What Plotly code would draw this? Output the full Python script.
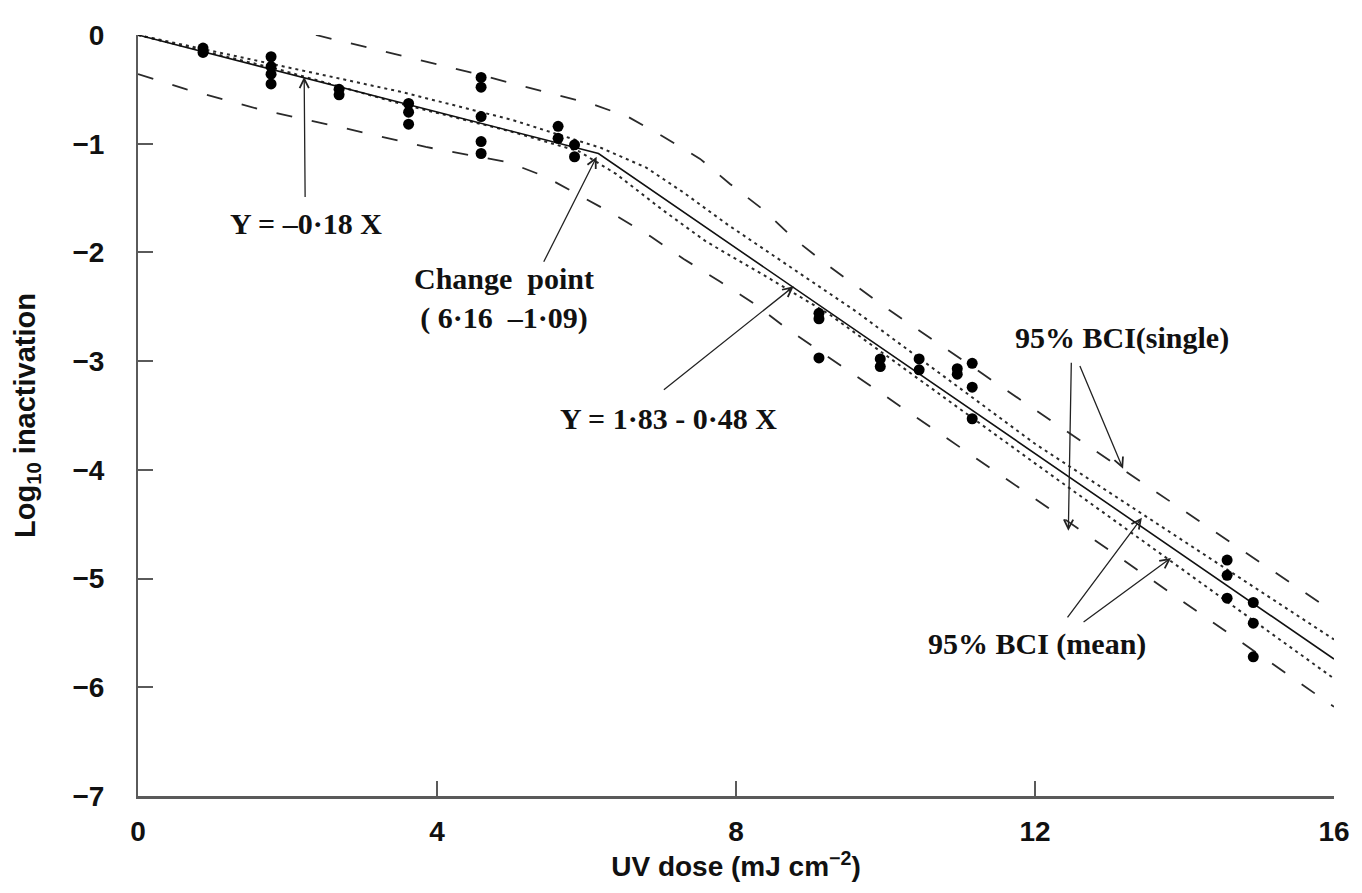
import plotly.graph_objects as go

# ---- data ----
dose_pts = [0.87, 0.87, 1.78, 1.78, 1.78, 1.78, 2.69, 2.69, 3.62, 3.62, 3.62,
            4.59, 4.59, 4.59, 4.59, 4.59, 5.62, 5.62, 5.84, 5.84,
            9.11, 9.11, 9.11, 9.93, 9.93, 10.45, 10.45, 10.96, 10.96,
            11.16, 11.16, 11.16, 14.57, 14.57, 14.57, 14.92, 14.92, 14.92]
log_pts = [-0.12, -0.16, -0.20, -0.29, -0.36, -0.45, -0.50, -0.55, -0.63, -0.71, -0.82,
           -0.39, -0.48, -0.75, -0.98, -1.09, -0.84, -0.95, -1.01, -1.12,
           -2.56, -2.61, -2.97, -2.98, -3.05, -2.98, -3.08, -3.07, -3.12,
           -3.02, -3.24, -3.53, -4.83, -4.97, -5.18, -5.22, -5.41, -5.72]

fit_x = [0, 6.16, 16]
fit_y = [0, -1.09, -5.74]

mean_up_x = [0, 1.9, 3.5, 5.0, 6.2, 6.8, 7.3, 7.9, 8.5, 9.6, 12.0, 16.0]
mean_up_y = [0, -0.28, -0.52, -0.78, -1.04, -1.22, -1.45, -1.75, -2.03, -2.54, -3.76, -5.56]
mean_lo_x = [0, 1.9, 3.5, 5.0, 5.9, 6.4, 7.0, 7.6, 8.4, 9.25, 12.0, 16.0]
mean_lo_y = [0, -0.32, -0.63, -0.89, -1.07, -1.28, -1.60, -1.90, -2.22, -2.57, -3.94, -5.92]

single_up_x = [2.38, 4.42, 6.05, 6.55, 7.04, 7.52, 7.92, 8.37, 8.77, 9.21, 10.05, 12.71, 16.0]
single_up_y = [0, -0.34, -0.63, -0.75, -0.94, -1.14, -1.37, -1.61, -1.87, -2.11, -2.53, -3.78, -5.31]
single_lo_x = [0, 0.65, 1.66, 2.78, 3.85, 4.95, 5.44, 6.37, 6.85, 7.3, 7.79, 8.24, 8.68, 12.18, 15.46, 16.0]
single_lo_y = [-0.36, -0.50, -0.69, -0.86, -1.03, -1.17, -1.30, -1.65, -1.85, -2.06, -2.27, -2.47, -2.70, -4.35, -5.92, -6.18]

x_ticks = [0, 4, 8, 12, 16]
y_ticks = [0, -1, -2, -3, -4, -5, -6, -7]

SANS = "Liberation Sans Narrow, Liberation Sans, Arial, sans-serif"
SERIF = "Liberation Serif, Times New Roman, serif"
LINE = "#2a2a2a"
AXIS = "#5a5a5a"

fig = go.Figure()

fig.add_trace(go.Scatter(x=single_up_x, y=single_up_y, mode="lines",
                         line=dict(color=LINE, width=1.8, dash="16px,20px"),
                         showlegend=False, hoverinfo="skip"))
fig.add_trace(go.Scatter(x=single_lo_x, y=single_lo_y, mode="lines",
                         line=dict(color=LINE, width=1.8, dash="16px,20px"),
                         showlegend=False, hoverinfo="skip"))
fig.add_trace(go.Scatter(x=mean_up_x, y=mean_up_y, mode="lines",
                         line=dict(color=LINE, width=2, dash="3px,4px"),
                         showlegend=False, hoverinfo="skip"))
fig.add_trace(go.Scatter(x=mean_lo_x, y=mean_lo_y, mode="lines",
                         line=dict(color=LINE, width=2, dash="3px,4px"),
                         showlegend=False, hoverinfo="skip"))
fig.add_trace(go.Scatter(x=fit_x, y=fit_y, mode="lines",
                         line=dict(color="#111111", width=1.6),
                         showlegend=False, hoverinfo="skip"))
fig.add_trace(go.Scatter(x=dose_pts, y=log_pts, mode="markers",
                         marker=dict(color="black", size=11),
                         showlegend=False))

ann_font = dict(family=SERIF, size=30, color="#111111", weight="bold")
texts = [
    ("Y = \u20130\u00b718 X", 2.25, -1.73),
    ("Change  point<br>( 6\u00b716  \u20131\u00b709)", 4.89, -2.42),
    ("Y = 1\u00b783 - 0\u00b748 X", 7.10, -3.53),
    ("95% BCI(single)", 13.17, -2.79),
    ("95% BCI (mean)", 12.03, -5.60),
]
for t, x, y in texts:
    fig.add_annotation(text=t, x=x, y=y, xref="x", yref="y", showarrow=False,
                       font=ann_font, align="center")

arrows = [
    (2.223, -0.385, 2.236, -1.505),
    (6.136, -1.12, 5.418, -2.10),
    (8.772, -2.312, 7.015, -3.275),
    (12.446, -4.56, 12.486, -3.0),
    (13.178, -3.99, 12.592, -3.03),
    (13.43, -4.44, 12.42, -5.37),
    (13.82, -4.81, 12.63, -5.41),
]
for x, y, ax, ay in arrows:
    fig.add_annotation(text="", x=x, y=y, ax=ax, ay=ay, xref="x", yref="y",
                       axref="x", ayref="y", showarrow=True, arrowhead=5,
                       arrowsize=1.4, arrowwidth=1.3, arrowcolor="#222222")

fig.update_layout(
    width=1354, height=885,
    margin=dict(l=130, r=22, t=25, b=97),
    paper_bgcolor="white", plot_bgcolor="white",
    xaxis=dict(range=[0, 16], tickvals=x_ticks, ticktext=[str(v) for v in x_ticks],
               ticks="inside", ticklen=15, tickwidth=1.5, tickcolor=AXIS,
               showline=True, linecolor=AXIS, linewidth=3, showgrid=False,
               zeroline=False, ticklabelstandoff=8,
               tickfont=dict(family=SANS, size=28, color="#111111", weight="bold"),
               title=dict(text="UV dose (mJ cm<sup>\u22122</sup>)", standoff=6,
                          font=dict(family=SANS, size=28, color="#111111", weight="bold"))),
    yaxis=dict(range=[-7, 0], tickvals=y_ticks,
               ticks="inside", ticklen=15, tickwidth=1.5, tickcolor=AXIS,
               showline=True, linecolor=AXIS, linewidth=2, showgrid=False,
               zeroline=False, ticklabelstandoff=26,
               tickfont=dict(family=SANS, size=28, color="#111111", weight="bold"),
               title=dict(text="Log<sub>10</sub> inactivation", standoff=28,
                          font=dict(family=SANS, size=29, color="#111111", weight="bold"))),
)

fig.write_html("out.html")
